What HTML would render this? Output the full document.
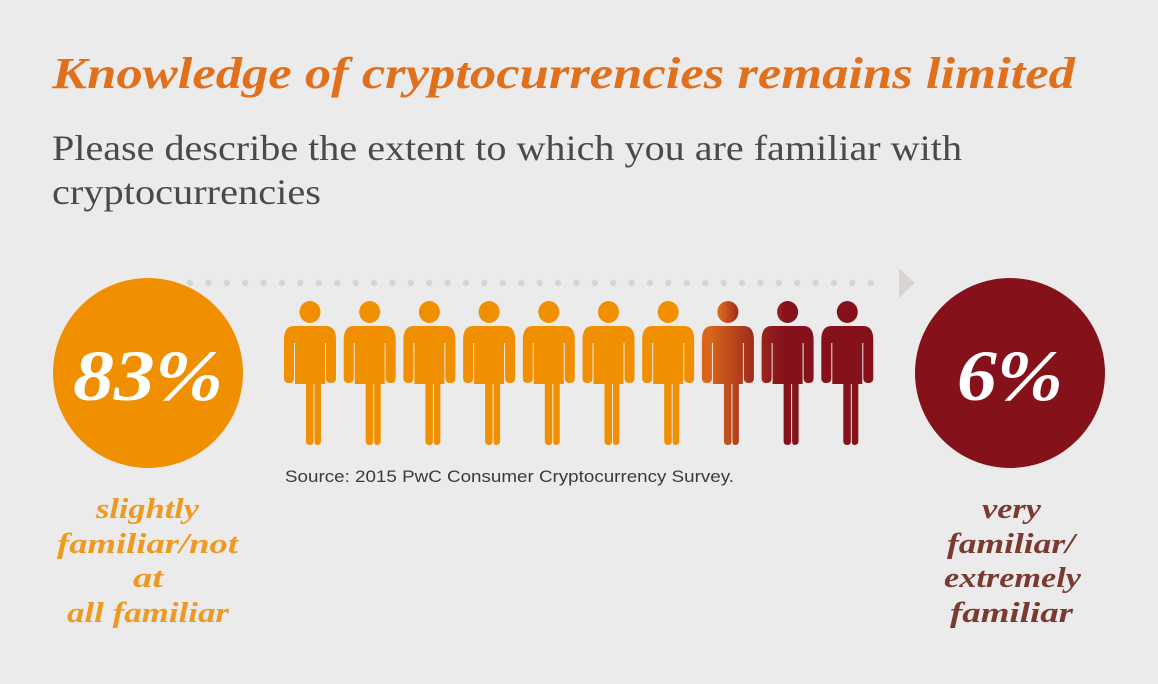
<!DOCTYPE html>
<html><head><meta charset="utf-8"><style>
html,body{margin:0;padding:0;background:#ebebeb;overflow:hidden;}
svg{display:block;}
</style></head><body>
<svg width="1158" height="684" viewBox="0 0 1158 684">
<defs>
<linearGradient id="mix" x1="0" x2="1" y1="0" y2="0">
<stop offset="0.15" stop-color="#d9661a"/><stop offset="1" stop-color="#9e2a1c"/>
</linearGradient>
<linearGradient id="mix2" x1="0" x2="1" y1="0" y2="0">
<stop offset="0" stop-color="#9a241c"/><stop offset="0.4" stop-color="#85121a"/>
</linearGradient>
</defs>
<rect width="1158" height="684" fill="#ebebeb"/>
<text x="52" y="88" textLength="1023" lengthAdjust="spacingAndGlyphs" font-family="Liberation Serif, serif" font-style="italic" font-weight="bold" font-size="44" fill="#e0701c">Knowledge of cryptocurrencies remains limited</text>
<text font-family="Liberation Serif, serif" font-size="36" fill="#4a4a4a"><tspan x="52" y="160" textLength="910" lengthAdjust="spacingAndGlyphs">Please describe the extent to which you are familiar with</tspan><tspan x="52" y="204" textLength="269" lengthAdjust="spacingAndGlyphs">cryptocurrencies</tspan></text>
<g id="dots"></g>
<polygon points="899,268 915,283 899,298" fill="#d9d4cf"/>
<circle cx="148" cy="373" r="95" fill="#f08f00"/>
<text x="148" y="400" text-anchor="middle" textLength="150" lengthAdjust="spacingAndGlyphs" font-family="Liberation Serif, serif" font-style="italic" font-weight="bold" font-size="72" fill="#fff">83%</text>
<circle cx="1010" cy="373" r="95" fill="#85121a"/>
<text x="1010" y="400" text-anchor="middle" textLength="106" lengthAdjust="spacingAndGlyphs" font-family="Liberation Serif, serif" font-style="italic" font-weight="bold" font-size="72" fill="#fff">6%</text>
<g id="people"></g>
<text x="285" y="482" textLength="449" lengthAdjust="spacingAndGlyphs" font-family="Liberation Sans, sans-serif" font-size="17" fill="#3a3a3a">Source: 2015 PwC Consumer Cryptocurrency Survey.</text>
<text font-family="Liberation Serif, serif" font-style="italic" font-weight="bold" font-size="29" fill="#ee9a22"><tspan x="96" y="518" textLength="103" lengthAdjust="spacingAndGlyphs">slightly</tspan><tspan x="57" y="553" textLength="181" lengthAdjust="spacingAndGlyphs">familiar/not</tspan><tspan x="133" y="587" textLength="30" lengthAdjust="spacingAndGlyphs">at</tspan><tspan x="67" y="622" textLength="162" lengthAdjust="spacingAndGlyphs">all familiar</tspan></text>
<text font-family="Liberation Serif, serif" font-style="italic" font-weight="bold" font-size="29" fill="#7a3a30"><tspan x="982" y="518" textLength="59" lengthAdjust="spacingAndGlyphs">very</tspan><tspan x="947" y="553" textLength="128" lengthAdjust="spacingAndGlyphs">familiar/</tspan><tspan x="944" y="587" textLength="137" lengthAdjust="spacingAndGlyphs">extremely</tspan><tspan x="950" y="622" textLength="123" lengthAdjust="spacingAndGlyphs">familiar</tspan></text>
</svg>
<script>
const ns='http://www.w3.org/2000/svg';
const personFills=['#f08f00','#f08f00','#f08f00','#f08f00','#f08f00','#f08f00','#f08f00','url(#mix)','url(#mix2)','#85121a'];
const dg=document.getElementById('dots');
for(let x=190;x<=888;x+=18.4){
 const c=document.createElementNS(ns,'circle');
 c.setAttribute('cx',x);c.setAttribute('cy',283);c.setAttribute('r',3.2);c.setAttribute('fill','#d9d4cf');
 
 
 dg.appendChild(c);
}
const pg=document.getElementById('people');
personFills.forEach((f,i)=>{
 const x=284+i*59.7;
 const g=document.createElementNS(ns,'g');
 
 
 g.setAttribute('fill',f);
 const d=`M${x+10},326 H${x+42} Q${x+52},326 ${x+52},340 V378 Q${x+52},383 ${x+47},383 Q${x+42},383 ${x+42},378 V343 H${x+41} V384 H${x+37} V441 Q${x+37},445 ${x+33},445 Q${x+30.5},445 ${x+30.5},441 V384 H${x+29.5} V441 Q${x+29.5},445 ${x+26},445 Q${x+22},445 ${x+22},441 V384 H${x+11} V343 H${x+10} V378 Q${x+10},383 ${x+5},383 Q${x},383 ${x},378 V340 Q${x},326 ${x+10},326 Z`;
 const p=document.createElementNS(ns,'path');
 p.setAttribute('d',d);
 const h=document.createElementNS(ns,'ellipse');
 h.setAttribute('cx',x+26);h.setAttribute('cy',312);h.setAttribute('rx',10.5);h.setAttribute('ry',11);
 g.appendChild(h);g.appendChild(p);pg.appendChild(g);
});
</script>
</body></html>
